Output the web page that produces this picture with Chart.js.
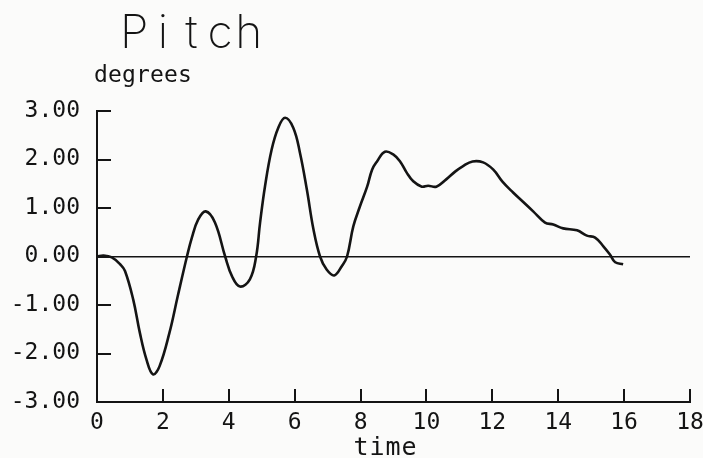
<!DOCTYPE html>
<html>
<head>
<meta charset="utf-8">
<script src="https://cdn.jsdelivr.net/npm/chart.js@4"></script>
<style>
  html, body { margin: 0; padding: 0; background: #fbfbfa; }
  #wrap { width: 703px; height: 458px; }
</style>
</head>
<body>
<div id="wrap"><canvas id="c" width="703" height="458"></canvas></div>
<script>
// Pitch angle record over time
const timeValues = [0, 0.2, 0.45, 0.7, 0.85, 1.1, 1.3, 1.5, 1.7, 1.9, 2.2, 2.45, 2.73, 2.88, 3.07, 3.3, 3.58, 3.89, 4.1, 4.34, 4.64, 4.83, 4.95, 5.1, 5.3, 5.5, 5.71, 5.96, 6.16, 6.37, 6.57, 6.77, 6.97, 7.2, 7.43, 7.59, 7.78, 7.98, 8.2, 8.35, 8.5, 8.74, 9.0, 9.2, 9.4, 9.6, 9.86, 10.05, 10.3, 10.6, 10.87, 11.1, 11.4, 11.72, 12.03, 12.3, 12.63, 12.93, 13.24, 13.6, 13.85, 14.15, 14.57, 14.87, 15.12, 15.37, 15.57, 15.73, 15.97];
const pitchValues = [0, 0.02, -0.02, -0.16, -0.3, -0.89, -1.57, -2.12, -2.43, -2.26, -1.57, -0.82, 0, 0.39, 0.76, 0.93, 0.7, 0, -0.41, -0.62, -0.47, 0, 0.7, 1.45, 2.2, 2.65, 2.86, 2.65, 2.14, 1.38, 0.56, 0, -0.27, -0.39, -0.2, 0, 0.62, 1.03, 1.44, 1.79, 1.96, 2.16, 2.1, 1.96, 1.73, 1.55, 1.44, 1.46, 1.44, 1.59, 1.75, 1.86, 1.96, 1.94, 1.79, 1.55, 1.32, 1.13, 0.93, 0.7, 0.66, 0.58, 0.54, 0.43, 0.39, 0.21, 0.04, -0.12, -0.16];
const xTicks = [0, 2, 4, 6, 8, 10, 12, 14, 16, 18];
const yTicks = [-3, -2, -1, 0, 1, 2, 3];

const chartTitle = 'Pitch';
const yTitle = 'degrees';
const xTitle = 'time';

const ink = '#141414';
const mono = "'DejaVu Sans Mono', 'Liberation Mono', monospace";

const points = timeValues.map((t, i) => ({ x: t, y: pitchValues[i] }));

// Draw a string on a fixed character pitch, like a pen plotter
function plotText(ctx, text, x, y, pitch) {
  for (let i = 0; i < text.length; i++) {
    ctx.fillText(text[i], x + i * pitch + pitch / 2, y);
  }
}

// Tick marks drawn inward from the axes, plus the headings
const decorations = {
  id: 'decorations',
  afterDraw(chart) {
    const { ctx, chartArea, scales } = chart;
    ctx.save();
    ctx.strokeStyle = ink;
    ctx.lineWidth = 2;
    ctx.beginPath();
    yTicks.forEach(v => {
      if (v === scales.y.min) return;
      const py = Math.round(scales.y.getPixelForValue(v));
      ctx.moveTo(chartArea.left, py);
      ctx.lineTo(chartArea.left + 14, py);
    });
    xTicks.forEach(v => {
      if (v === scales.x.min) return;
      const px = Math.round(scales.x.getPixelForValue(v));
      ctx.moveTo(px, chartArea.bottom);
      ctx.lineTo(px, chartArea.bottom - 13);
    });
    ctx.stroke();

    ctx.fillStyle = ink;
    ctx.textBaseline = 'alphabetic';
    ctx.textAlign = 'center';
    ctx.font = '200 46px Inter, "DejaVu Sans", sans-serif';
    plotText(ctx, chartTitle, 120, 48, 28.6);
    ctx.font = '23px ' + mono;
    plotText(ctx, yTitle, 94, 82, 14);
    ctx.font = '25px ' + mono;
    plotText(ctx, xTitle, 353, 455, 16);
    ctx.restore();
  }
};

new Chart(document.getElementById('c'), {
  type: 'line',
  data: {
    datasets: [{
      data: points,
      borderColor: ink,
      borderWidth: 2.6,
      pointRadius: 0,
      fill: false,
      tension: 0.4
    }]
  },
  options: {
    responsive: false,
    animation: false,
    events: [],
    layout: { padding: { left: 0, right: 13, top: 111, bottom: 0 } },
    plugins: {
      legend: { display: false },
      tooltip: { enabled: false },
      title: { display: false }
    },
    scales: {
      x: {
        type: 'linear',
        min: 0,
        max: 18,
        afterFit(scale) { scale.height = 56; scale.paddingRight = 0; },
        afterBuildTicks(scale) { scale.ticks = xTicks.map(v => ({ value: v })); },
        ticks: {
          color: ink,
          font: { family: mono, size: 23 },
          padding: 7,
          maxRotation: 0,
          autoSkip: false
        },
        grid: { display: false, drawTicks: false },
        border: { display: true, color: ink, width: 2 }
      },
      y: {
        type: 'linear',
        min: -3,
        max: 3,
        afterFit(scale) { scale.width = 97; },
        afterBuildTicks(scale) { scale.ticks = yTicks.map(v => ({ value: v })); },
        ticks: {
          color: ink,
          font: { family: mono, size: 23 },
          padding: 17,
          callback: v => Number(v).toFixed(2)
        },
        grid: {
          drawTicks: false,
          drawOnChartArea: true,
          color: ctx => (ctx.tick && ctx.tick.value === 0 ? ink : 'rgba(0,0,0,0)'),
          lineWidth: 1.6
        },
        border: { display: true, color: ink, width: 2 }
      }
    }
  },
  plugins: [decorations]
});
</script>
</body>
</html>
